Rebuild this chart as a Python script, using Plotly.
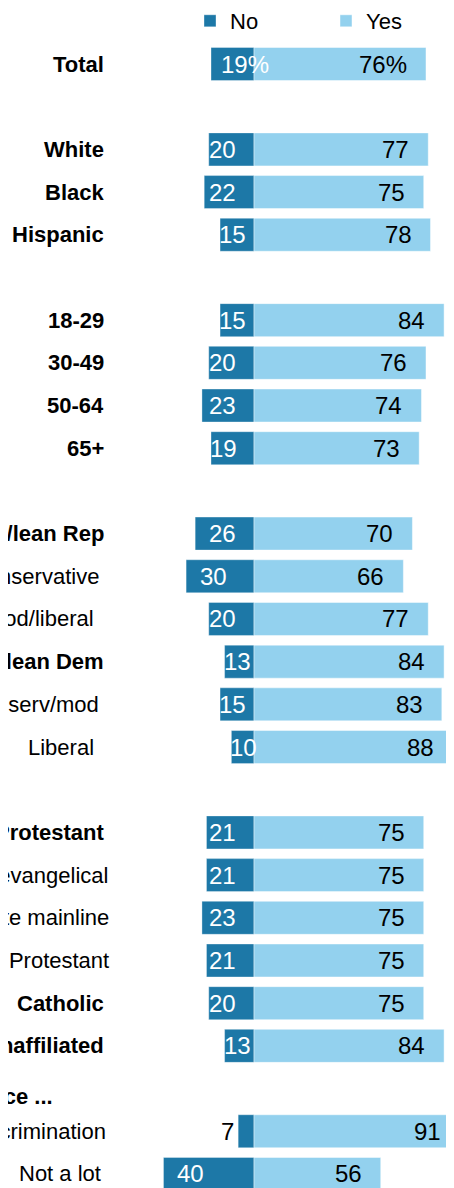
import plotly.graph_objects as go

# ---------------- data ----------------
categories = [
    "Total",
    "White", "Black", "Hispanic",
    "18-29", "30-49", "50-64", "65+",
    "Rep/lean Rep", "Conservative", "Mod/liberal",
    "Dem/lean Dem", "Conserv/mod", "Liberal",
    "Protestant", "White evangelical", "White mainline", "Black Protestant",
    "Catholic", "Unaffiliated",
    "A lot of discrimination", "Not a lot",
]
no_values = [19, 20, 22, 15, 15, 20, 23, 19, 26, 30, 20, 13, 15, 10,
             21, 21, 23, 21, 20, 13, 7, 40]
yes_values = [76, 77, 75, 78, 84, 76, 74, 73, 70, 66, 77, 84, 83, 88,
              75, 75, 75, 75, 75, 84, 91, 56]
bold_categories = {
    "Total", "White", "Black", "Hispanic", "18-29", "30-49", "50-64", "65+",
    "Rep/lean Rep", "Dem/lean Dem", "Protestant", "Catholic", "Unaffiliated",
}
group_sizes = [1, 3, 4, 6, 6, 2]
section_header = "Among those who say gays and lesbians experience ..."
series_names = ["No", "Yes"]

# ---------------- style / layout ----------------
DARK = "#1d78a7"
LIGHT = "#93d1ee"
FONT = "Liberation Sans, Arial, sans-serif"

# the page body adds an 8px margin, so the figure is drawn 8px smaller
W, H = 446, 1180
L = 97                      # left margin of the plot area
PW = W - L                  # plot width in px
SLOT_PX = 42.69
ZERO_PX = 246
PX_PER_UNIT = 2.263
LABEL_RIGHT_PX = 98         # right edge of the category labels
# small per-label horizontal nudges of the category labels (px)
label_nudge = {
    "Conservative": -5, "Mod/liberal": -10, "Conserv/mod": -5, "Liberal": -10,
    "White evangelical": 4, "White mainline": 5, "Black Protestant": 5,
    "A lot of discrimination": 2, "Not a lot": -3,
}

slots = []
pos = 0
for gi, size in enumerate(group_sizes):
    if gi > 0:
        pos += 1
    for _ in range(size):
        slots.append(pos)
        pos += 1
header_slot = slots[sum(group_sizes[:-1])] - 1

fig = go.Figure()
fig.add_trace(go.Bar(
    y=slots, x=[-v for v in no_values], orientation="h", name=series_names[0],
    marker=dict(color=DARK, line=dict(color="rgba(255,255,255,0.35)", width=1)),
    width=0.773, hoverinfo="skip",
))
fig.add_trace(go.Bar(
    y=slots, x=yes_values, orientation="h", name=series_names[1],
    marker=dict(color=LIGHT, line=dict(color="rgba(255,255,255,0.45)", width=1)),
    width=0.773, hoverinfo="skip",
))

annotations = []
for i, (c, s, n, y) in enumerate(zip(categories, slots, no_values, yes_values)):
    pct = "%" if i == 0 else ""
    # category label
    txt = f"<b>{c}</b>" if c in bold_categories else c
    annotations.append(dict(x=(LABEL_RIGHT_PX + label_nudge.get(c, 0) - L) / PW, y=s,
                            xref="paper", yref="y", text=txt, xanchor="right",
                            showarrow=False,
                            font=dict(family=FONT, size=22, color="black")))
    # "No" label
    if n < 9:
        annotations.append(dict(x=-n, y=s, xref="x", yref="y", text=f"{n}{pct}",
                                 xanchor="right", xshift=-2, showarrow=False,
                                 font=dict(family=FONT, size=24, color="black")))
    else:
        right = max(-n + 12.4, min(-7.07, -n + 19.0))
        if pct:
            annotations.append(dict(x=right - 8.8, y=s, xref="x", yref="y",
                                    text=f"{n}{pct}", xanchor="left", showarrow=False,
                                    font=dict(family=FONT, size=24, color="white")))
        else:
            annotations.append(dict(x=right, y=s, xref="x", yref="y", text=f"{n}",
                                    xanchor="right", showarrow=False,
                                    font=dict(family=FONT, size=24, color="white")))
    # "Yes" label, right-aligned 17px inside the bar end
    annotations.append(dict(x=y - 17 / PX_PER_UNIT, y=s, xref="x", yref="y",
                            text=f"{y}{pct}", xanchor="right", showarrow=False,
                            font=dict(family=FONT, size=24, color="black")))

# section header (mostly cropped at the left edge)
annotations.append(dict(x=(47 - L) / PW, y=header_slot, xref="paper", yref="y",
                        text=f"<b>{section_header}</b>", xanchor="right", yshift=-8,
                        showarrow=False, font=dict(family=FONT, size=22, color="black")))

y_top = -56 / SLOT_PX
y_bottom = y_top + H / SLOT_PX

fig.update_layout(
    width=W, height=H,
    margin=dict(l=L, r=0, t=0, b=0, pad=0, autoexpand=False),
    paper_bgcolor="white", plot_bgcolor="white",
    barmode="relative",
    showlegend=True,
    legend=dict(orientation="h", x=(182 - L) / PW, xanchor="left",
                y=1 - 13 / H, yanchor="middle",
                font=dict(family=FONT, size=22, color="black"),
                entrywidth=91, entrywidthmode="pixels",
                bgcolor="rgba(0,0,0,0)", itemclick=False, traceorder="normal"),
    xaxis=dict(range=[-(ZERO_PX - L) / PX_PER_UNIT, (W - ZERO_PX) / PX_PER_UNIT],
               visible=False, fixedrange=True),
    yaxis=dict(range=[y_bottom, y_top], tickvals=slots, showticklabels=False,
               showgrid=False, zeroline=False, showline=False, ticks="",
               automargin=False, fixedrange=True),
    annotations=annotations,
    font=dict(family=FONT),
)

fig.write_html("out.html")
